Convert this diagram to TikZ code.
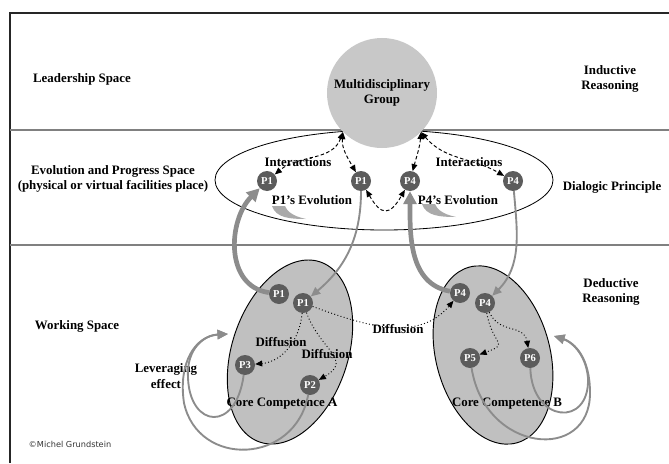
\documentclass[tikz,border=0pt]{standalone}
\usepackage{fontspec}
\setmainfont{Liberation Serif}
\newfontfamily\cpfont{DejaVu Sans}
\usetikzlibrary{arrows.meta,shapes.geometric,calc}
\definecolor{grp_gray}{RGB}{200, 200, 200}
\definecolor{core_gray}{RGB}{192, 192, 192}
\definecolor{pn_gray}{RGB}{92, 92, 92}
\definecolor{arr_gray}{RGB}{140, 140, 140}
\definecolor{sep_gray}{RGB}{128, 128, 128}
\definecolor{swoosh_gray}{RGB}{170, 170, 170}
\tikzstyle{pn}=[circle,fill=pn_gray,text=white,inner sep=0pt,
  minimum size=0.6cm,font=\fontsize{9}{9}\selectfont\bfseries]
\tikzstyle{lbl}=[align=center,inner sep=0pt,font=\fontsize{11}{13}\selectfont\bfseries]
\tikzstyle{grp}=[circle,fill=grp_gray,inner sep=0pt,minimum size=3.3cm,
  align=center,font=\fontsize{11}{13}\selectfont\bfseries]
\tikzstyle{evo}=[ellipse,draw=black,line width=0.7pt,fill=white,inner sep=0pt,
  minimum width=10.14cm,minimum height=3cm]
\tikzstyle{core}=[ellipse,draw=black,line width=0.8pt,fill=core_gray,inner sep=0pt,
  minimum width=5.7cm,minimum height=3.48cm]
\tikzstyle{sep}=[draw=sep_gray,line width=1.2pt]
\tikzstyle{thk}=[draw=arr_gray,line width=4pt,-{Triangle[length=11pt,width=11pt]}]
\tikzstyle{thn}=[draw=arr_gray,line width=1.6pt,-{Triangle[length=8pt,width=7pt]}]
\tikzstyle{lev}=[draw=arr_gray,line width=1.6pt,-{Triangle[length=9pt,width=8pt]}]
\tikzstyle{dsh}=[draw=black,line width=0.8pt,dash pattern=on 3pt off 2pt,
  {Triangle[length=6pt,width=5pt]}-{Triangle[length=6pt,width=5pt]}]
\tikzstyle{dot}=[draw=black,line width=0.8pt,dotted,-{Triangle[length=6pt,width=5pt]}]

\begin{document}
\begin{tikzpicture}[x=0.03cm,y=0.03cm]
        \useasboundingbox (0,0) rectangle (669,463);
        % frame and the three spaces
        \coordinate (40) at (10,0);
        \coordinate (41) at (10,450);
        \coordinate (42) at (669,450);
        \coordinate (43) at (10,333);
        \coordinate (44) at (669,333);
        \coordinate (45) at (10,218);
        \coordinate (46) at (669,218);
        \draw [line width=0.9pt, color=black!85] (40) -- (41) -- (42);
        \draw [style=sep] (43) -- (44);
        \draw [style=sep] (45) -- (46);
        \node [style=lbl] (20) at (82, 384) {Leadership Space};
        \node [style=lbl] (21) at (113, 284) {Evolution and Progress Space\\(physical or virtual facilities place)};
        \node [style=lbl] (22) at (77, 137) {Working Space};
        \node [style=lbl] (23) at (610, 384) {Inductive\\Reasoning};
        \node [style=lbl] (24) at (612, 276) {Dialogic Principle};
        \node [style=lbl] (25) at (611, 171) {Deductive\\Reasoning};
        % big shapes
        \node [style=evo] (30) at (384, 283) {};
        \node [style=grp] (31) at (382, 370) {Multidisciplinary\\Group};
        \node [style=core, rotate=71.6] (33) at (290, 111) {};
        \node [style=core, rotate=105, minimum width=5.46cm, minimum height=3.42cm] (34) at (493, 108) {};
        % labels
        \node [style=lbl] (12) at (298, 301) {Interactions};
        \node [style=lbl] (13) at (469, 301) {Interactions};
        \node [style=lbl] (14) at (312, 263) {P1's Evolution};
        \node [style=lbl] (15) at (458, 263) {P4's Evolution};
        \node [style=lbl] (16) at (281, 121) {Diffusion};
        \node [style=lbl] (17) at (327, 109) {Diffusion};
        \node [style=lbl] (18) at (398, 134) {Diffusion};
        \node [style=lbl] (19) at (166, 87) {Leveraging\\effect};
        \node [style=lbl] (26) at (282, 59) {Core Competence A};
        \node [style=lbl] (27) at (507, 59) {Core Competence B};
        \node [color=black!80, font=\cpfont\fontsize{7}{8}\selectfont] (28) at (70, 19) {©Michel Grundstein};
        % swooshes
        \fill [color=swoosh_gray] (272,257) .. controls (276,245) and (290,244) .. (306,244)
          .. controls (292,247) and (287,252) .. (285,257) -- cycle;
        \fill [color=swoosh_gray, shift={(150,2)}] (272,257) .. controls (276,245) and (290,244) .. (306,244)
          .. controls (292,247) and (287,252) .. (285,257) -- cycle;
        % P nodes
        \node [style=pn] (0) at (267, 282) {P1};
        \node [style=pn] (1) at (361, 282) {P1};
        \node [style=pn] (2) at (410, 282) {P4};
        \node [style=pn] (3) at (513, 282) {P4};
        \node [style=pn] (4) at (279, 169) {P1};
        \node [style=pn] (5) at (303, 160) {P1};
        \node [style=pn] (6) at (245, 98) {P3};
        \node [style=pn] (7) at (310, 78) {P2};
        \node [style=pn] (8) at (460, 170) {P4};
        \node [style=pn] (9) at (485, 160) {P4};
        \node [style=pn] (10) at (470, 105) {P5};
        \node [style=pn] (11) at (530, 105) {P6};
        \coordinate (35) at (228, 129);
        \coordinate (36) at (554, 127);
        % interactions
        \draw [style=dsh] (31.225) to [out=-110, in=40] (0);
        \draw [style=dsh] (31.225) to [out=-95, in=120] (1);
        \draw [style=dsh] (31.-45) to [out=-95, in=75] (2);
        \draw [style=dsh] (31.-45) to [out=-50, in=150] (3);
        \draw [style=dsh] (1) to [out=-60, in=-120, looseness=2] (2);
        % evolution
        \draw [style=thk] (4) to [out=172, in=225, looseness=1.1] (0);
        \draw [style=thn] (1) to [out=-90, in=40] (5);
        \draw [style=thk] (8) to [out=170, in=-90] (2);
        \draw [style=thn] (3) to [out=-85, in=45] (9);
        % diffusion
        \draw [style=dot] (5) to [out=-95, in=5] (6);
        \draw [style=dot] (5) to [out=-70, in=30, looseness=1.5] (7);
        \draw [style=dot] (5) to [out=-20, in=-130] (8);
        \draw [style=dot] (9) to [out=-80, in=20, looseness=2] (10);
        \draw [style=dot] (9) to [out=-65, in=100, looseness=1.2] (11);
        % leveraging
        \draw [style=lev] (6) .. controls (236,30) and (190,35) .. (188,85) .. controls (186,115) and (205,128) .. (35);
        \draw [style=lev] (7) .. controls (295,-2) and (198,-5) .. (184,60) .. controls (178,100) and (195,127) .. (35);
        \draw [style=lev] (11) .. controls (532,40) and (590,35) .. (588,85) .. controls (586,110) and (570,122) .. (36);
        \draw [style=lev] (10) .. controls (485,10) and (590,0) .. (590,70) .. controls (590,105) and (575,120) .. (36);
    \end{tikzpicture}
\end{document}
